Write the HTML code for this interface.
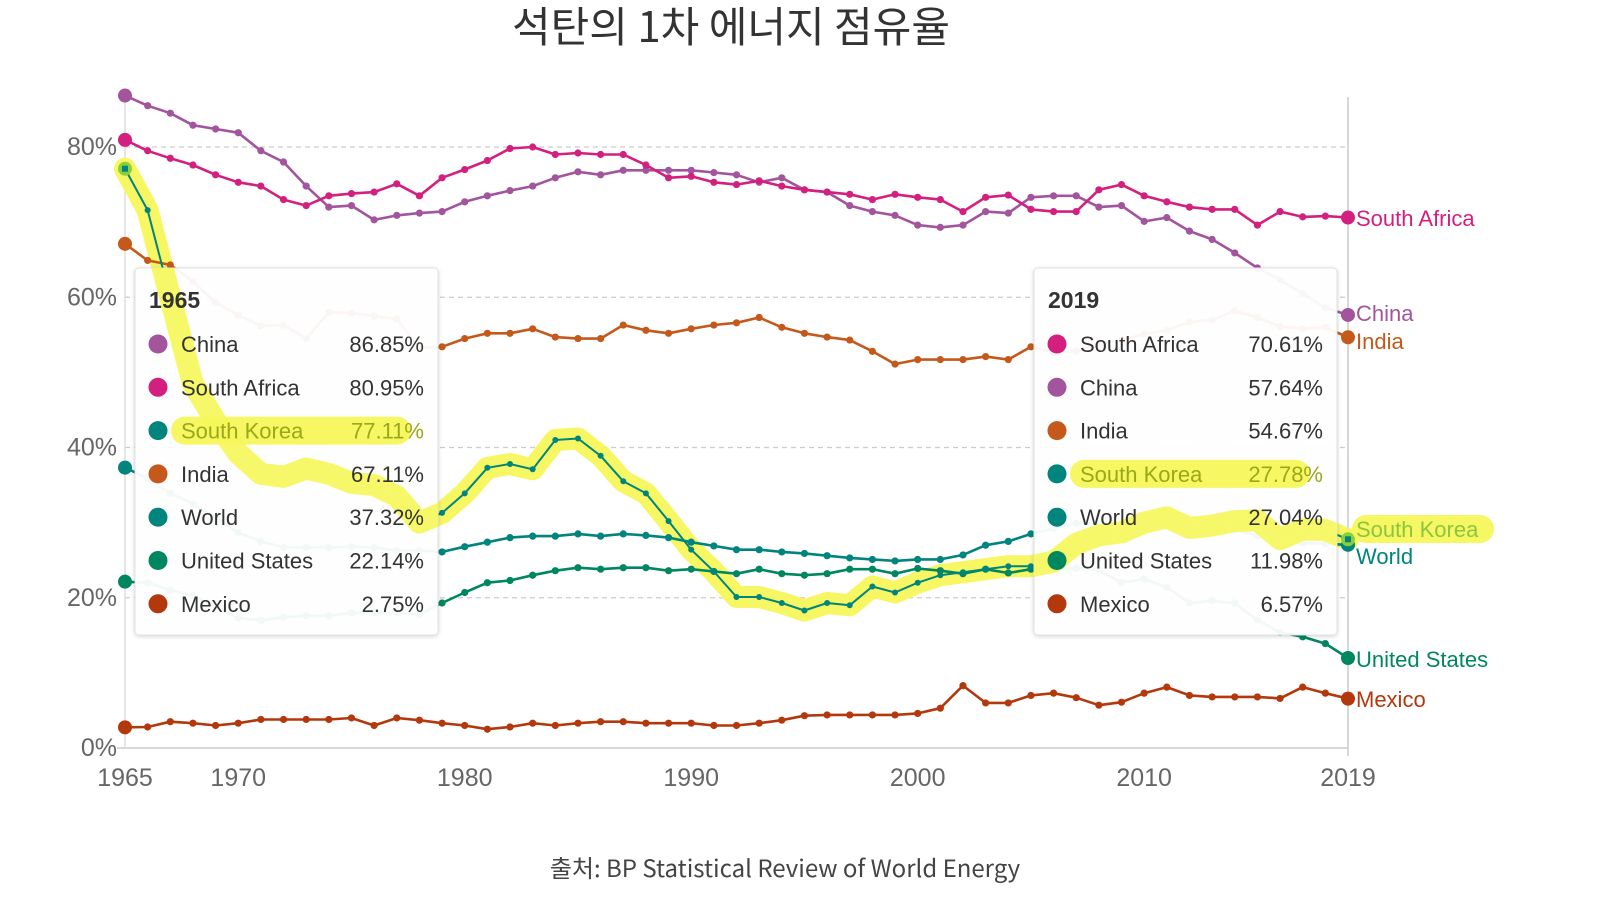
<!DOCTYPE html>
<html><head><meta charset="utf-8"><title>석탄의 1차 에너지 점유율</title>
<style>
html,body{margin:0;padding:0;background:#fff;}
svg{display:block;font-family:"Liberation Sans","Noto Sans CJK KR",sans-serif;}
</style></head>
<body>
<svg id="chart" width="1600" height="900" viewBox="0 0 1600 900">
<text x="731" y="42" text-anchor="middle" font-size="42" fill="#333" font-family="'Noto Sans CJK KR',sans-serif">석탄의 1차 에너지 점유율</text>
<text x="785" y="877" text-anchor="middle" font-size="24" fill="#444" font-family="'Noto Sans CJK KR',sans-serif">출처: BP Statistical Review of World Energy</text>
<defs>
<clipPath id="tipclip"><rect x="135" y="268" width="303" height="367" rx="4"/><rect x="1034" y="268" width="303" height="367" rx="4"/></clipPath>
<filter id="sh" x="-10%" y="-10%" width="120%" height="120%"><feDropShadow dx="0" dy="1" stdDeviation="2" flood-color="#000" flood-opacity="0.18"/></filter>
</defs>
<g id="grid"></g>
<g id="hl"></g>
<g id="lines"></g>
<g id="tips"></g>
<g id="hl2" clip-path="url(#tipclip)"></g>
<g id="tiptext"></g>
<g id="endlabels"></g>
</svg>
<script>
const startYear = 1965;
const endYear = 2019;
const yTicks = [0, 20, 40, 60, 80];
const xTicks = [1965, 1970, 1980, 1990, 2000, 2010, 2019];
const seriesNames = ["China","South Africa","South Korea","India","World","United States","Mexico"];
const china = [86.85,85.5,84.5,82.9,82.4,81.9,79.5,78.0,74.8,72.0,72.2,70.3,70.9,71.2,71.4,72.7,73.5,74.2,74.8,75.9,76.7,76.3,76.9,76.9,76.9,76.9,76.6,76.3,75.3,75.9,74.3,74.0,72.2,71.4,70.9,69.6,69.3,69.6,71.4,71.2,73.3,73.5,73.5,72.0,72.2,70.1,70.6,68.8,67.7,65.9,63.9,62.3,60.5,58.6,57.64];
const southAfrica = [80.95,79.5,78.5,77.6,76.3,75.3,74.8,73.0,72.2,73.5,73.8,74.0,75.1,73.5,75.9,77.0,78.2,79.8,80.0,79.0,79.2,79.0,79.0,77.6,75.9,76.1,75.3,75.0,75.5,74.8,74.3,74.0,73.7,73.0,73.7,73.3,73.0,71.4,73.3,73.6,71.7,71.4,71.4,74.3,75.0,73.5,72.7,72.0,71.7,71.7,69.6,71.4,70.7,70.8,70.61];
const southKorea = [77.11,71.6,60.0,48.5,43.5,39.2,36.5,36.1,37.2,36.5,35.3,35.0,33.5,30.0,31.3,33.9,37.3,37.8,37.1,41.0,41.2,38.9,35.5,33.9,30.2,26.4,23.5,20.1,20.1,19.3,18.3,19.3,19.0,21.5,20.7,22.0,23.0,23.4,23.8,24.2,24.2,24.8,27.2,28.3,28.7,30.0,30.7,29.3,29.6,30.2,30.3,27.8,29.1,29.0,27.78];
const india = [67.11,64.9,64.3,62.1,59.3,57.6,56.2,56.3,54.5,58.0,57.9,57.5,57.1,53.3,53.4,54.5,55.2,55.2,55.8,54.7,54.5,54.5,56.3,55.6,55.2,55.8,56.3,56.6,57.3,56.0,55.2,54.7,54.3,52.8,51.1,51.7,51.7,51.7,52.1,51.7,53.4,52.7,52.8,53.8,54.3,55.1,55.6,56.7,57.0,58.2,57.3,56.1,55.8,56.0,54.67];
const world = [37.32,35.9,33.9,32.5,30.7,28.7,27.5,26.7,26.7,26.7,26.8,26.7,26.3,26.3,26.1,26.8,27.4,28.0,28.2,28.2,28.5,28.2,28.5,28.3,28.0,27.4,26.9,26.4,26.4,26.1,25.9,25.6,25.3,25.1,24.9,25.1,25.1,25.7,27.0,27.5,28.5,29.2,29.9,29.8,29.3,29.8,30.3,29.7,29.6,29.0,28.3,27.6,27.3,27.2,27.04];
const unitedStates = [22.14,22.0,21.0,20.3,18.8,17.3,17.0,17.4,17.6,17.6,18.0,18.0,18.0,17.8,19.3,20.7,22.0,22.3,23.0,23.6,24.0,23.8,24.0,24.0,23.6,23.8,23.5,23.2,23.8,23.2,23.0,23.2,23.8,23.8,23.2,23.9,23.6,23.2,23.8,23.3,23.8,23.8,23.9,23.7,22.0,22.5,21.4,19.3,19.6,19.3,17.0,15.4,14.8,13.9,11.98];
const mexico = [2.75,2.8,3.5,3.3,3.0,3.3,3.8,3.8,3.8,3.8,4.0,3.0,4.0,3.7,3.3,3.0,2.5,2.8,3.3,3.0,3.3,3.5,3.5,3.3,3.3,3.3,3.0,3.0,3.3,3.7,4.3,4.4,4.4,4.4,4.4,4.6,5.3,8.3,6.0,6.0,7.0,7.3,6.7,5.7,6.1,7.3,8.1,7.0,6.8,6.8,6.8,6.6,8.1,7.3,6.57];

const NS = "http://www.w3.org/2000/svg";
const X0 = 125, X1 = 1348, Y0 = 748, Y80 = 147;
function xs(yr){ return X0 + (yr - startYear) * (X1 - X0) / (endYear - startYear); }
function ys(v){ return Y0 - v * (Y0 - Y80) / 80; }
function mk(tag, attrs, parent){ const e = document.createElementNS(NS, tag); for (const k in attrs) e.setAttribute(k, attrs[k]); parent.appendChild(e); return e; }
const fmt = v => v.toFixed(2) + "%";

const grid = document.getElementById("grid");
yTicks.forEach(t => {
  if (t > 0) {
    const gl = mk("line", {x1: X0, x2: X1, y1: ys(t), y2: ys(t), stroke: "#ccc", "stroke-dasharray": "5,4", "stroke-width": 1.3}, grid);
    
    
  }
  const tl = mk("text", {x: 117, y: ys(t) + 8, "text-anchor": "end", "font-size": 25, fill: "#666"}, grid);
  tl.textContent = t + "%";
  
  
});
const base = mk("line", {x1: X0 - 8, x2: X1, y1: Y0, y2: Y0, stroke: "#ccc", "stroke-width": 1.5}, grid);


const yax = mk("line", {x1: X0, x2: X0, y1: 97, y2: Y0, stroke: "#ddd", "stroke-width": 1.5}, grid);


const hov = mk("line", {x1: X1, x2: X1, y1: 97, y2: Y0 + 8, stroke: "#ccc", "stroke-width": 1.5}, grid);


xTicks.forEach(t => {
  const xl = mk("text", {x: xs(t), y: 786, "text-anchor": "middle", "font-size": 25, fill: "#666"}, grid);
  xl.textContent = t;
  
  
});

const seriesData = [china, southAfrica, southKorea, india, world, unitedStates, mexico];
const colors = ["#a2549d", "#d3207f", "#00847e", "#c4591b", "#00847e", "#00875f", "#b3380c"];
const drawOrder = [6, 5, 4, 3, 0, 1, 2];
function pts(arr){ return arr.map((v, i) => xs(startYear + i).toFixed(1) + "," + ys(v).toFixed(1)).join(" "); }

const hl = document.getElementById("hl");
const hp = mk("polyline", {points: pts(southKorea), fill: "none", stroke: "#f6f75a", "stroke-width": 22, "stroke-linejoin": "round", "stroke-linecap": "round", opacity: 0.95}, hl);


const hl2 = document.getElementById("hl2");
const hp2 = mk("polyline", {points: pts(southKorea), fill: "none", stroke: "#f6f75a", "stroke-width": 22, "stroke-linejoin": "round", "stroke-linecap": "round", opacity: 0.9}, hl2);



const lines = document.getElementById("lines");
drawOrder.forEach(si => {
  const arr = seriesData[si];
  const g = mk("g", {}, lines);
  
  
  const isSK = si === 2;
  mk("polyline", {points: pts(arr), fill: "none", stroke: colors[si], "stroke-width": isSK ? 2 : 2.6, "stroke-linejoin": "round"}, g);
  arr.forEach((v, i) => {
    const end = (i === 0 || i === arr.length - 1);
    let fill = colors[si];
    if (isSK && end) fill = "#8ccf3a";
    const c = mk("circle", {cx: xs(startYear + i), cy: ys(v), r: end ? 7 : (isSK ? 3 : 3.6), fill: fill}, g);
    
    
  });
  if (isSK) {
    mk("rect", {x: xs(startYear) - 3, y: ys(arr[0]) - 3, width: 6, height: 6, fill: "#00847e"}, g);
    mk("rect", {x: xs(endYear) - 3, y: ys(arr[arr.length - 1]) - 3, width: 6, height: 6, fill: "#00847e"}, g);
  }
});

const tips = document.getElementById("tips");
const tiptext = document.getElementById("tiptext");
function tooltip(x, year, order, idx, nm){
  const r = mk("rect", {x: x, y: 268, width: 303, height: 367, rx: 4, fill: "#fff", "fill-opacity": 0.94, stroke: "#e2e2e2", filter: "url(#sh)"}, tips);
  
  
  const t = mk("text", {x: x + 14, y: 308, "font-size": 23, "font-weight": "bold", fill: "#333"}, tiptext);
  t.textContent = year;
  
  
  order.forEach((si, k) => {
    const cy = 344 + k * 43.3;
    if (si === 2) {
      const hr = mk("rect", {x: x + 36, y: cy - 14, width: 240, height: 28, rx: 14, fill: "#f6f75a", opacity: 0.95}, tiptext);
      
      
    }
    const d = mk("circle", {cx: x + 23, cy: cy, r: 9.5, fill: colors[si]}, tiptext);
    
    
    const tcol = si === 2 ? "#9aa81a" : "#333";
    const n = mk("text", {x: x + 46, y: cy + 8, "font-size": 22, fill: tcol}, tiptext);
    n.textContent = seriesNames[si];
    
    
    const v = mk("text", {x: x + 289, y: cy + 8, "font-size": 22, "text-anchor": "end", fill: tcol}, tiptext);
    v.textContent = fmt(seriesData[si][idx]);
    
    
  });
}
tooltip(135, 1965, [0, 1, 2, 3, 4, 5, 6], 0, 'tooltip-1965');
tooltip(1034, 2019, [1, 0, 3, 2, 4, 5, 6], endYear - startYear, 'tooltip-2019');

const el = document.getElementById("endlabels");
const labelY = {0: 313, 1: 218, 2: 529, 3: 341, 4: 556, 5: 659, 6: 699};
[1, 0, 3, 2, 4, 5, 6].forEach(si => {
  const y = labelY[si];
  if (si === 2) {
    const hr = mk("rect", {x: 1352, y: y - 14, width: 142, height: 28, rx: 14, fill: "#f6f75a", opacity: 0.95}, el);
    
    
  }
  const t = mk("text", {x: 1356, y: y + 8, "font-size": 22, fill: si === 2 ? "#8cc63f" : colors[si]}, el);
  t.textContent = seriesNames[si];
  
  
});
</script>
</body></html>
